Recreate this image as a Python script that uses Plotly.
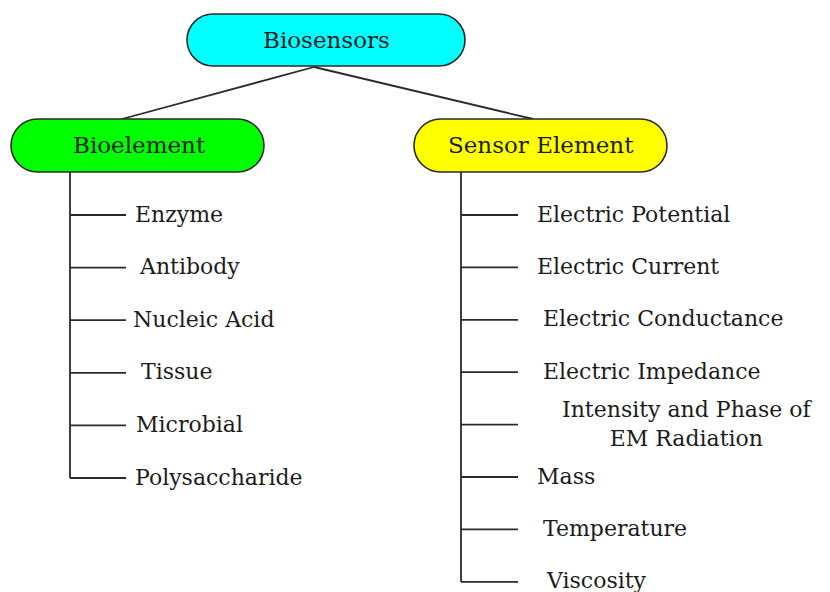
import plotly.graph_objects as go

root_label = "Biosensors"
branch_labels = ["Bioelement", "Sensor Element"]
bio_items = ["Enzyme", "Antibody", "Nucleic Acid", "Tissue", "Microbial", "Polysaccharide"]
sensor_items = ["Electric Potential", "Electric Current", "Electric Conductance",
                "Electric Impedance", "Intensity and Phase of<br>EM Radiation",
                "Mass", "Temperature", "Viscosity"]

W, H = 830, 592
FONT = "DejaVu Serif"
LINE = "#2a2a2a"

fig = go.Figure()
shapes = []
annotations = []


def stadium(x0, y0, x1, y1, fill):
    r = (y1 - y0) / 2
    k = 0.5523 * r
    p = (f"M {x0+r},{y0} L {x1-r},{y0} "
         f"C {x1-r+k},{y0} {x1},{y0+r-k} {x1},{y0+r} "
         f"C {x1},{y0+r+k} {x1-r+k},{y1} {x1-r},{y1} "
         f"L {x0+r},{y1} "
         f"C {x0+r-k},{y1} {x0},{y0+r+k} {x0},{y0+r} "
         f"C {x0},{y0+r-k} {x0+r-k},{y0} {x0+r},{y0} Z")
    shapes.append(dict(type="path", path=p, xref="x", yref="y",
                       fillcolor=fill, line=dict(color=LINE, width=1.6), layer="above"))


def seg(x0, y0, x1, y1):
    fig.add_trace(go.Scatter(x=[x0, x1], y=[y0, y1], mode="lines",
                             line=dict(color=LINE, width=1.8), hoverinfo="skip",
                             showlegend=False))


def text(x, y, s, size=20, anchor="center"):
    annotations.append(dict(x=x, y=y, xref="x", yref="y", text=s, showarrow=False,
                            xanchor=anchor, yanchor="middle",
                            font=dict(family=FONT, size=size, color="#1c1c1c")))


# connectors root -> branches
seg(314, 67, 122, 119)
seg(314, 67, 533, 119)

# boxes
stadium(187, 14, 465, 66, "#00FFFF")
stadium(11, 119, 264, 172, "#00FF00")
stadium(414, 119, 667, 172, "#FFFF00")
text(326, 40, root_label, 23)
text(139, 145, branch_labels[0], 23)
text(541, 145, branch_labels[1], 23)

# left branch
left_x, left_end = 70, 126
y0, dy = 215, 52.6
ys = [y0 + i * dy for i in range(len(bio_items))]
seg(left_x, 172, left_x, ys[-1])
bio_dx = [133, 137, 131, 139, 134, 133]
for i, (lab, y) in enumerate(zip(bio_items, ys)):
    seg(left_x, y, left_end, y)
    text(bio_dx[i], y - 1, lab, 22, "left")

# right branch
right_x, right_end = 461, 518
ys2 = [y0 + i * 52.4 for i in range(len(sensor_items))]
seg(right_x, 172, right_x, ys2[-1])
sens_dx = [535, 535, 541, 541, None, 535, 541, 544]
for i, (lab, y) in enumerate(zip(sensor_items, ys2)):
    seg(right_x, y, right_end, y)
    if sens_dx[i] is None:
        text(687, y - 1, lab, 22, "center")
    else:
        text(sens_dx[i], y - 1, lab, 22, "left")

fig.update_layout(
    width=W, height=H, margin=dict(l=0, r=0, t=0, b=0),
    paper_bgcolor="white", plot_bgcolor="white",
    xaxis=dict(range=[0, W], visible=False, fixedrange=True),
    yaxis=dict(range=[H, 0], visible=False, fixedrange=True),
    shapes=shapes, annotations=annotations, showlegend=False,
)
fig.write_html("out.html", config={"displayModeBar": False},
               post_script="document.body.style.margin='0';document.body.style.overflow='hidden';")
